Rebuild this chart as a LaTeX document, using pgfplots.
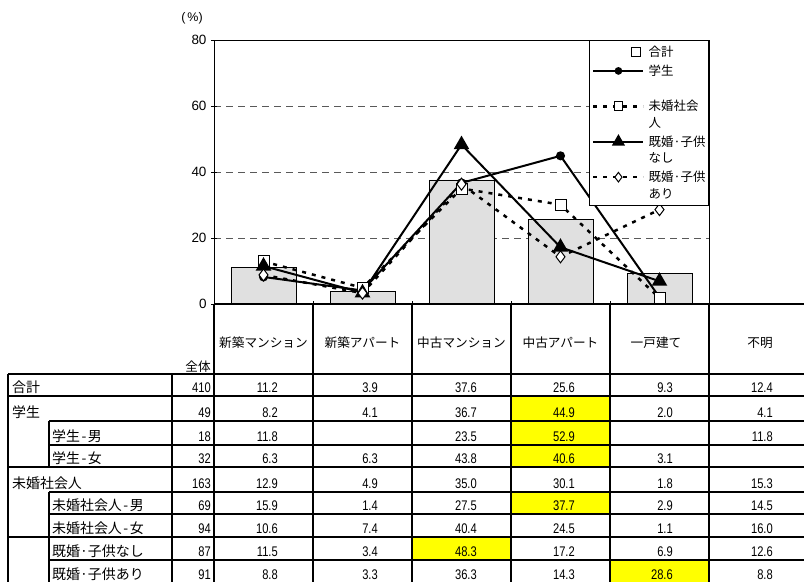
\documentclass[border=0pt]{standalone}
\usepackage{pgfplots}
\pgfplotsset{compat=1.18}
\usepackage{fontspec}
\setmainfont{Liberation Sans}
\newfontfamily\jp{Noto Sans CJK JP}
\newfontfamily\numf[FakeStretch=0.8]{Liberation Sans}
\definecolor{hl}{RGB}{255,255,0}
\newcommand{\numfont}{\numf\fontsize{14}{16}\selectfont}
\newcommand{\jpfont}{\jp\fontsize{14}{16}\selectfont}
\newcommand{\hdfont}{\jp\fontsize{12.7}{15}\selectfont}
\begin{document}
\begin{tikzpicture}
\begin{axis}[
  at={(214bp,-304bp)}, anchor=south west,
  scale only axis, width=495bp, height=264bp,
  xmin=-0.5, xmax=4.5, ymin=0, ymax=80,
  xtick={0.5,1.5,2.5,3.5}, xticklabels={},
  ytick={0,20,40,60,80},
  tick pos=left, tick align=center, major tick length=6bp,
  tick style={black, line width=1bp},
  yticklabel style={font=\fontsize{13.5}{15}\selectfont, xshift=-1bp},
  /pgf/number format/assume math mode=true,
  ymajorgrids, grid style={dash pattern=on 7bp off 5bp, black!65, line width=0.8bp},
  axis line style={line width=1bp},
  clip=false,
  legend style={at={(1,1)}, anchor=north east, draw=black, line width=1bp, fill=white,
    font=\jp\fontsize{12.5}{16.5}\selectfont, nodes={align=left, inner sep=0bp},
    row sep=7bp, column sep=4bp, inner xsep=3bp, inner ysep=5.5bp},
  legend cell align=left,
  legend image code/.code={\draw[mark repeat=2,mark phase=2,#1,yshift=8.25bp,/tikz/every mark/.append style={scale=0.8}] plot coordinates {(0bp,0bp) (25bp,0bp) (50bp,0bp)};},
]
\addplot[ybar, bar width=65bp, fill=black!12, draw=black, line width=0.8bp, forget plot]
  coordinates {(0,11.2) (1,3.9) (2,37.6) (3,25.6) (4,9.3)};
\addlegendimage{legend image code/.code={\draw[black, line width=0.8bp, fill=white] (38bp,-4.5bp) rectangle (47bp,4.5bp);}}
\addlegendentry{合計}
% 学生
\addplot[black, line width=2bp, mark=*, mark size=3.5bp, mark options={solid}]
  coordinates {(0,8.2) (1,4.1) (2,36.7) (3,44.9) (4,2.0)};
\addlegendentry{学生\\\mbox{}}
% 未婚社会人
\addplot[black, line width=2.5bp, dash pattern=on 4bp off 6bp, mark=square*, mark size=5.5bp,
  mark options={solid, fill=white, line width=1bp}]
  coordinates {(0,12.9) (1,4.9) (2,35.0) (3,30.1) (4,1.8)};
\addlegendentry{未婚社会\\人}
% 既婚・子供なし
\addplot[black, line width=2bp, mark=triangle*, mark size=7bp, mark options={solid}]
  coordinates {(0,11.5) (1,3.4) (2,48.3) (3,17.2) (4,6.9)};
\addlegendentry{既婚·子供\\なし}
% 既婚・子供あり
\addplot[black, line width=2.5bp, dash pattern=on 4bp off 6bp, mark=diamond*, mark size=6bp,
  mark options={solid, fill=white, line width=1bp}]
  coordinates {(0,8.8) (1,3.3) (2,36.3) (3,14.3) (4,28.6)};
\addlegendentry{既婚·子供\\あり}
\end{axis}
\begin{scope}[x=1bp, y=-1bp]
\node[anchor=base, font=\fontsize{12.5}{14}\selectfont] at (192,21) {(\,\%)};
% yellow cells
\fill[hl] (511,396) rectangle (610,421);
\fill[hl] (511,421) rectangle (610,445);
\fill[hl] (511,445) rectangle (610,467);
\fill[hl] (511,492) rectangle (610,514);
\fill[hl] (412,537) rectangle (511,560);
\fill[hl] (610,560) rectangle (709,583);
% lines
\draw[line width=2.5bp] (214,304) -- (804,304);
\foreach \x in {214,313,412,511,610,709} \draw[line width=1.6bp] (\x,304) -- (\x,583);
\draw[line width=1.6bp] (8,374) -- (8,583);
\draw[line width=1.6bp] (172,374) -- (172,583);
\draw[line width=1.6bp] (49,421) -- (49,467);
\draw[line width=1.6bp] (49,492) -- (49,583);
\foreach \y in {374,396,467,537} \draw[line width=2.4bp] (8,\y) -- (804,\y);
\foreach \y in {421,445,492,514,560} \draw[line width=1.1bp] (49,\y) -- (804,\y);
% header
\foreach \x/\t in {263.5/新築マンション,362.5/新築アパート,461.5/中古マンション,560.5/中古アパート,656/一戸建て,760/不明}
  \node[anchor=base, font=\hdfont, inner sep=0] at (\x,347) {\t};
\node[anchor=base east, font=\hdfont, inner sep=0] at (211,371) {全体};
% row labels
\foreach \x/\y/\t in {12/392/合計, 12/417/学生, 52/441/学生\kern1.5bp-\kern1.5bp男, 52/463/学生\kern1.5bp-\kern1.5bp女,
  12/488/未婚社会人, 52/510/未婚社会人\kern1.5bp-\kern1.5bp男, 52/533/未婚社会人\kern1.5bp-\kern1.5bp女,
  52/556/既婚·子供なし, 52/579/既婚·子供あり}
  \node[anchor=base west, font=\jpfont, inner sep=0] at (\x,\y) {\t};
% numbers
\foreach \y/\a/\b/\c/\d/\e/\f/\g in {
  392/410/11.2/3.9/37.6/25.6/9.3/12.4,
  417/49/8.2/4.1/36.7/44.9/2.0/4.1,
  441/18/11.8//23.5/52.9//11.8,
  463/32/6.3/6.3/43.8/40.6/3.1/,
  488/163/12.9/4.9/35.0/30.1/1.8/15.3,
  510/69/15.9/1.4/27.5/37.7/2.9/14.5,
  533/94/10.6/7.4/40.4/24.5/1.1/16.0,
  556/87/11.5/3.4/48.3/17.2/6.9/12.6,
  579/91/8.8/3.3/36.3/14.3/28.6/8.8}{
  \node[anchor=base east, font=\numfont, inner sep=0] at (211,\y) {\a};
  \node[anchor=base east, font=\numfont, inner sep=0] at (278,\y) {\b};
  \node[anchor=base east, font=\numfont, inner sep=0] at (378,\y) {\c};
  \node[anchor=base east, font=\numfont, inner sep=0] at (477,\y) {\d};
  \node[anchor=base east, font=\numfont, inner sep=0] at (575,\y) {\e};
  \node[anchor=base east, font=\numfont, inner sep=0] at (673,\y) {\f};
  \node[anchor=base east, font=\numfont, inner sep=0] at (773,\y) {\g};
}
\end{scope}
\pgfresetboundingbox
\path (0,0) rectangle (804bp,-582bp);
\end{tikzpicture}
\end{document}
